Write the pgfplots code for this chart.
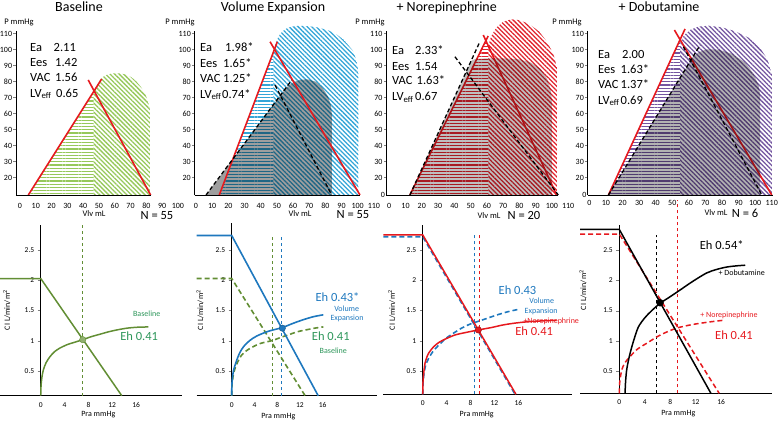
\documentclass[border=0pt]{standalone}
\usepackage{fontspec}
\setmainfont{Carlito}
\usepackage{pgfplots}
\pgfplotsset{compat=1.18}
\usetikzlibrary{patterns.meta}

\definecolor{hgreen}{RGB}{150,200,90}
\definecolor{hblue}{RGB}{50,165,215}
\definecolor{hred}{RGB}{225,35,45}
\definecolor{hpurple}{RGB}{115,85,160}
\definecolor{lred}{RGB}{230,25,30}
\definecolor{cgreen}{RGB}{98,142,52}
\definecolor{tgreen}{RGB}{45,150,90}
\definecolor{cblue}{RGB}{30,120,190}

\newcommand{\fs}[1]{\fontsize{#1}{#1}\selectfont}
\tikzset{
 hlines/.style={pattern={Lines[angle=0,distance=3.2pt,line width=1.3pt]},pattern color=#1},
 dlines/.style={pattern={Lines[angle=-45,distance=3.2pt,line width=1.3pt]},pattern color=#1},
}
\newcommand{\stat}[5]{%
 \node[anchor=base west,inner sep=0pt,font=\fs{12.5}] at (#1pt,-#3pt) {#4};
 \node[anchor=base west,inner sep=0pt,font=\fs{12.5}] at (#2pt,-#3pt) {#5};}

\pgfplotsset{
 topax/.style={
  anchor=south west, y=1.6pt, ymin=9.2, ymax=111.5,
  axis x line*=bottom, axis y line*=left,
  x axis line style={draw=none},
  y axis line style={line width=0.6pt},
  ytick={20,30,...,110}, xtick={0,10,...,110},
  tick align=outside, major tick length=2.5pt,
  xtick style={draw=none}, ytick style={line width=0.5pt},
  ticklabel style={font=\fs{8}},
  xticklabel style={yshift=-2pt},
  yticklabel style={inner sep=1.2pt},
  /pgf/number format/assume math mode=true,
  clip=false,
 },
 botax/.style={
  anchor=south west, y=60.54pt, ymax=2.91,
  axis x line=bottom, axis y line=middle, axis line style={-,line width=0.6pt},
  xtick={0,4,...,16}, ytick={0.5,1,...,2.5},
  hide obscured x ticks=false, hide obscured y ticks=false,
  tick align=outside, major tick length=3pt,
  xtick style={draw=none},
  ticklabel style={font=\fs{7.5}},
  /pgf/number format/assume math mode=true,
  clip=false,
 },
 redl/.style={lred, line width=1.6pt},
 bdash/.style={black, line width=1.3pt, dash pattern=on 4pt off 2.5pt},
}

\begin{document}
\begin{tikzpicture}
\path[use as bounding box] (0,0) rectangle (778pt,-421pt);

% ---------------- Panel 1: Baseline ----------------
\begin{axis}[topax, at={(16pt,-195pt)}, x=1.58pt, xmin=-2.5, xmax=102, xtick={0,10,...,100}]
\addplot[draw=none, hlines=hgreen] coordinates {(5.3,9.2)(46.6,73.7)(46.6,9.2)};
\addplot[draw=none, dlines=hgreen] coordinates {(46.6,9.2)(46.6,72)(48.5,77.5)(50.6,81)(52.5,83)(54.9,84.3)(57.5,85)(60.1,85.3)(63.5,85.2)(67.5,84.4)(71,82.5)(73.8,80)(76.5,76.8)(79.1,72.8)(81,68)(82.3,62.3)(82.3,9.2)};
\addplot[redl] coordinates {(5.3,9.2)(51.7,81.7)};
\addplot[redl] coordinates {(43.2,81.1)(82.7,9.2)};
\draw[line width=0.6pt] (axis cs:-2.5,9.2) -- (axis cs:83,9.2);
\end{axis}

% ---------------- Panel 2: Volume expansion ----------------
\begin{axis}[topax, at={(194.7pt,-195pt)}, x=1.617pt, xmin=-0.8, xmax=112]
\addplot[draw=none, hlines=hblue] coordinates {(14.4,9.2)(47.8,98.4)(47.8,9.2)};
\addplot[draw=none, dlines=hblue] coordinates {(47.8,9.2)(47.8,97)(49,103)(50.9,108)(53.5,111.5)(56.5,113.6)(60,114.6)(64.3,115)(70,114.7)(76,113.8)(82,112)(87,109.5)(91,106.5)(94.5,102.5)(97.3,99)(99.3,93)(100.4,86)(100.4,9.2)};
\addplot[draw=none, fill=black, fill opacity=0.38] coordinates {(6.2,9.2)(51.9,71.1)(56,76.5)(60,79.5)(64.3,81.2)(69,81.5)(74,80)(78,76.5)(81.5,71)(83.5,65)(84,60)(84,9.2)};
\addplot[redl] coordinates {(14.4,9.2)(50.3,105)};
\addplot[redl] coordinates {(45.8,105)(101.4,9.2)};
\addplot[bdash] coordinates {(6.2,9.2)(59.2,81)};
\addplot[bdash] coordinates {(48.9,77.9)(83.9,9.2)};
\draw[line width=0.6pt] (axis cs:-0.8,9.2) -- (axis cs:101.5,9.2);
\end{axis}

% ---------------- Panel 3: Norepinephrine ----------------
\begin{axis}[topax, at={(386.3pt,-195pt)}, x=1.627pt, xmin=-1.8, xmax=112,
  extra y ticks={9.2}, extra y tick labels={0}, extra y tick style={major tick length=0pt}]
\addplot[draw=none, hlines=hred] coordinates {(12.7,9.2)(59.4,105.4)(60.9,102.3)(60.9,9.2)};
\addplot[draw=none, dlines=hred] coordinates {(60.9,9.2)(60.9,102)(62,106.5)(63.5,110)(66,114)(70,117.5)(75,119)(80,118.5)(86,116)(92,111.5)(97,105)(101,97)(103,89)(103,9.2)};
\addplot[redl] coordinates {(12.7,9.2)(60.8,108.6)};
\addplot[redl] coordinates {(57.8,109.2)(102.9,9.2)};
\addplot[draw=none, fill=black, fill opacity=0.25] coordinates {(12.7,9.2)(50.3,93)(53,94.3)(60,94.6)(70,94.6)(80,94)(87,92)(93,88)(97,82)(99.3,75)(100,68)(100,9.2)};
\addplot[bdash] coordinates {(12.7,9.2)(55.7,105)};
\addplot[bdash] coordinates {(40.4,95.6)(103.9,9.2)};
\draw[line width=0.6pt] (axis cs:-1.8,9.2) -- (axis cs:104,9.2);
\end{axis}

% ---------------- Panel 4: Dobutamine ----------------
\begin{axis}[topax, at={(587.7pt,-195pt)}, x=1.658pt, xmin=-1, xmax=112,
  xticklabel style={yshift=3pt},
  extra y ticks={9.2}, extra y tick labels={0}, extra y tick style={major tick length=0pt}]
\addplot[draw=none, hlines=hpurple] coordinates {(11.5,9.2)(54.7,106.2)(54.7,9.2)};
\addplot[draw=none, dlines=hpurple] coordinates {(54.7,9.2)(54.7,104)(57,109)(61,112.5)(66,114.5)(72,115)(80,114)(88,111.5)(96,107.5)(103,101)(107.5,94)(110,85)(110,9.2)};
\addplot[redl] coordinates {(11.5,9.2)(57.7,113)};
\addplot[redl] coordinates {(51.3,112.3)(110,9.2)};
\addplot[draw=none, fill=black, fill opacity=0.3] coordinates {(11.5,9.2)(59.7,90.9)(62,95)(66,98.5)(71,100.3)(78,100)(86,97.5)(94,92)(99,85)(102,78)(103,72)(103,9.2)};
\addplot[bdash] coordinates {(11.5,9.2)(66.8,102.9)};
\addplot[bdash] coordinates {(56.7,101.9)(104,9.2)};
\draw[line width=0.6pt] (axis cs:-1,9.2) -- (axis cs:110.5,9.2);
\end{axis}

% ---------------- Panel 5: Baseline CI ----------------
\begin{axis}[botax, at={(0.2pt,-395.7pt)}, x=5.96pt, xmin=-6.8, xmax=23.7, ymin=0.094]
\addplot[cgreen, dashed, line width=0.7pt] coordinates {(7.05,0.094)(7.05,2.91)};
\addplot[cgreen, line width=1.5pt] coordinates {(-6.8,2.03)(0,2.03)(13.6,0.094)};
\addplot[cgreen, line width=1.5pt, smooth] coordinates {(0,0.094)(0.05,0.25)(0.2,0.4)(0.44,0.52)(0.9,0.64)(1.56,0.74)(2.3,0.82)(3.2,0.88)(4.5,0.94)(5.8,0.98)(7.05,1.02)(8.5,1.07)(9.95,1.11)(11.4,1.15)(12.75,1.18)(14.5,1.21)(16.2,1.225)(18.05,1.23)};
\addplot[only marks, mark=*, mark size=3.2pt, mark options={fill=cgreen!70!white, draw=cgreen}] coordinates {(7.05,1.02)};
\end{axis}

% ---------------- Panel 6: Volume expansion CI ----------------
\begin{axis}[botax, at={(196.7pt,-395.7pt)}, x=5.69pt, xmin=-6.15, xmax=25.5, ymin=0.094, ymax=2.94]
\addplot[cgreen, dashed, line width=0.7pt] coordinates {(7.2,0.094)(7.2,2.75)};
\addplot[cblue, dashed, line width=0.7pt] coordinates {(8.8,0.094)(8.8,2.75)};
\addplot[cgreen, line width=1.6pt, dash pattern=on 5pt off 3pt] coordinates {(-6.15,2.03)(0,2.03)(12.9,0.094)};
\addplot[cgreen, line width=1.6pt, dash pattern=on 5pt off 3pt, smooth] coordinates {(0,0.094)(0.05,0.26)(0.25,0.42)(0.6,0.55)(1.1,0.66)(1.7,0.76)(2.5,0.83)(3.3,0.88)(4.8,0.95)(6,0.98)(7.3,1.01)(8.7,1.06)(10,1.1)(11.5,1.15)(13,1.18)(14.6,1.21)(16.1,1.23)};
\addplot[cblue, line width=1.6pt] coordinates {(-6.15,2.74)(0,2.74)(15.2,0.094)};
\addplot[cblue, line width=1.6pt, smooth] coordinates {(0,0.094)(0.05,0.3)(0.3,0.5)(0.88,0.68)(1.4,0.8)(2.05,0.9)(3.1,1.0)(4.4,1.08)(6.5,1.16)(8.9,1.22)(10.8,1.29)(12.6,1.35)(14.4,1.4)(16.1,1.43)};
\addplot[only marks, mark=*, mark size=3.2pt, mark options={fill=cblue, draw=cblue!70!black}] coordinates {(8.9,1.21)};
\end{axis}

% ---------------- Panel 7: Norepinephrine CI ----------------
\begin{axis}[botax, at={(383.3pt,-394.3pt)}, x=5.975pt, xmin=-6.6, xmax=24.9, ymin=0.117]
\addplot[cblue, dashed, line width=0.7pt] coordinates {(8.65,0.117)(8.65,2.75)};
\addplot[lred, dashed, line width=0.7pt] coordinates {(9.5,0.117)(9.5,2.75)};
\addplot[cblue, line width=1.6pt, dash pattern=on 5pt off 3pt] coordinates {(-6.6,2.72)(0,2.72)(15.45,0.117)};
\addplot[cblue, line width=1.6pt, dash pattern=on 5pt off 3pt, smooth] coordinates {(0,0.117)(0.05,0.3)(0.2,0.45)(0.5,0.6)(1.2,0.75)(2,0.86)(3,0.96)(4,1.05)(5.2,1.13)(6.5,1.21)(8,1.28)(9.5,1.33)(11,1.38)(12.5,1.43)(14.2,1.48)(16,1.52)};
\addplot[lred, line width=1.5pt] coordinates {(-6.6,2.75)(0,2.75)(15.6,0.117)};
\addplot[lred, line width=1.5pt, smooth] coordinates {(0,0.117)(0.03,0.3)(0.15,0.45)(0.38,0.63)(0.9,0.78)(1.8,0.9)(2.8,0.98)(4,1.04)(5.5,1.1)(7.3,1.14)(9.3,1.18)(11.5,1.22)(13.3,1.26)(15.2,1.29)(17.5,1.315)(20,1.33)(22.4,1.34)};
\addplot[only marks, mark=*, mark size=3.2pt, mark options={fill=lred, draw=lred!60!black}] coordinates {(9.3,1.18)};
\end{axis}

% ---------------- Panel 8: Dobutamine CI ----------------
\begin{axis}[botax, at={(580pt,-393.3pt)}, x=6.36pt, xmin=-6.18, xmax=24, ymin=0.134]
\addplot[black, dashed, line width=0.7pt] coordinates {(5.9,0.134)(5.9,2.75)};
\addplot[lred, dashed, line width=0.8pt] coordinates {(9.2,0.134)(9.2,3.33)};
\addplot[lred, line width=1.5pt, dash pattern=on 5pt off 3pt] coordinates {(-6.18,2.765)(0,2.765)(15.7,0.134)};
\addplot[lred, line width=1.5pt, dash pattern=on 5pt off 3pt, smooth] coordinates {(0,0.134)(0.05,0.3)(0.38,0.52)(0.9,0.64)(1.68,0.74)(2.8,0.86)(4.3,0.96)(6.5,1.1)(9,1.21)(11.5,1.27)(14,1.31)(16.35,1.34)};
\addplot[black, line width=1.5pt] coordinates {(-6.18,2.84)(0,2.84)(14.4,0.134)};
\addplot[black, line width=1.5pt, smooth] coordinates {(0.9,0.134)(1.0,0.35)(1.2,0.55)(1.68,0.79)(2.3,1.02)(3,1.23)(4,1.38)(5,1.49)(6.4,1.62)(8,1.73)(9.55,1.84)(11.5,1.98)(13.7,2.12)(15.3,2.18)(16.9,2.22)(18.5,2.24)(19.8,2.25)};
\addplot[only marks, mark=*, mark size=3.5pt, mark options={fill=black}] coordinates {(6.4,1.63)};
\end{axis}

% ---------------- texts: top ----------------
\node[anchor=base, font=\fs{14}] at (79pt,-11pt) {Baseline};
\node[anchor=base, font=\fs{14}] at (273pt,-11pt) {Volume Expansion};
\node[anchor=base, font=\fs{14}] at (446.7pt,-11pt) {+ Norepinephrine};
\node[anchor=base, font=\fs{14}] at (659pt,-11pt) {+ Dobutamine};

\foreach \xx in {19,180,370,567}{\node[font=\fs{8.5}] at (\xx pt,-23pt) {P mmHg};}

\stat{30}{53.5}{51.2}{Ea}{2.11}
\stat{30}{55}{66.2}{Ees}{1.42}
\stat{30}{55}{81.5}{VAC}{1.56}
\stat{30}{56}{97}{LV\textsubscript{eff}}{0.65}

\stat{200}{225}{51}{Ea}{1.98*}
\stat{200}{223}{67}{Ees}{1.65*}
\stat{200}{223}{82.5}{VAC}{1.25*}
\stat{200}{222}{98}{LV\textsubscript{eff}}{0.74*}

\stat{392}{415}{54.2}{Ea}{2.33*}
\stat{392}{415}{70}{Ees}{1.54}
\stat{392}{416.5}{84.2}{VAC}{1.63*}
\stat{392}{415}{100.5}{LV\textsubscript{eff}}{0.67}

\stat{598}{622}{58.5}{Ea}{2.00}
\stat{598}{620.5}{73.2}{Ees}{1.63*}
\stat{598}{620.5}{88.5}{VAC}{1.37*}
\stat{598}{620.5}{104}{LV\textsubscript{eff}}{0.69}

\node[font=\fs{8.5}] at (94pt,-214pt) {Vlv mL};
\node[font=\fs{8.5}] at (300pt,-214pt) {Vlv mL};
\node[font=\fs{8.5}] at (489pt,-216pt) {Vlv mL};
\node[font=\fs{8.5}] at (716pt,-213pt) {Vlv mL};
\node[font=\fs{12.5}] at (157pt,-216pt) {N = 55};
\node[font=\fs{12.5}] at (353pt,-215pt) {N = 55};
\node[font=\fs{12.5}] at (524pt,-215pt) {N = 20};
\node[font=\fs{12.5}] at (745pt,-213.5pt) {N = 6};

% ---------------- texts: bottom ----------------
\foreach \xx/\yy in {98.3/415,278.3/416.7,476.7/415,678.3/413.3}{\node[font=\fs{8}] at (\xx pt,-\yy pt) {Pra mmHg};}
\foreach \xx/\yy in {6.7/310,200/310,391.7/310,583/290}{\node[font=\fs{8},rotate=90] at (\xx pt,-\yy pt) {CI L/min/m\textsuperscript{2}};}

\node[font=\fs{8}, text=tgreen] at (146.7pt,-313.3pt) {Baseline};
\node[font=\fs{12.5}, text=tgreen] at (139.2pt,-336.7pt) {Eh 0.41};

\node[font=\fs{12.5}, text=cblue] at (337.5pt,-297.3pt) {Eh 0.43*};
\node[font=\fs{8}, text=cblue] at (346.7pt,-308.3pt) {Volume};
\node[font=\fs{8}, text=cblue] at (347pt,-318.3pt) {Expansion};
\node[font=\fs{12.5}, text=tgreen] at (330.8pt,-336pt) {Eh 0.41};
\node[font=\fs{8}, text=tgreen] at (333.3pt,-350.7pt) {Baseline};

\node[font=\fs{12.5}, text=cblue] at (517.5pt,-290.7pt) {Eh 0.43};
\node[font=\fs{8}, text=cblue] at (541.7pt,-301pt) {Volume};
\node[font=\fs{8}, text=cblue] at (541.2pt,-311.7pt) {Expansion};
\node[font=\fs{8}, text=lred, anchor=west, inner sep=0pt] at (523.3pt,-321pt) {+Norepinephrine};
\node[font=\fs{12.5}, text=lred] at (534.2pt,-331.7pt) {Eh 0.41};

\node[font=\fs{12.5}] at (721.7pt,-245pt) {Eh 0.54*};
\node[font=\fs{8}] at (741.7pt,-272.7pt) {+ Dobutamine};
\node[font=\fs{8}, text=lred] at (729pt,-315pt) {+ Norepinephrine};
\node[font=\fs{12.5}, text=lred] at (734pt,-335pt) {Eh 0.41};
\end{tikzpicture}
\end{document}
